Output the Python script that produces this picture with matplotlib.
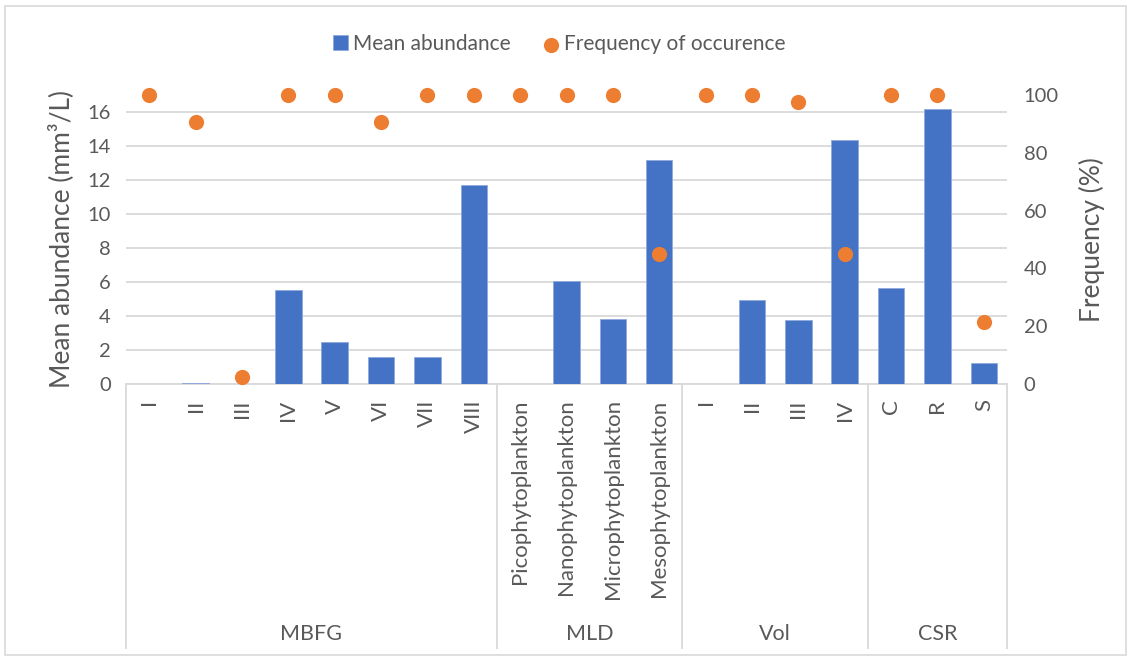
import matplotlib
matplotlib.use("Agg")
import matplotlib.pyplot as plt
from matplotlib.patches import Rectangle
from matplotlib.lines import Line2D

plt.rcParams['font.family'] = ['Lato', 'DejaVu Sans']

categories = ["I", "II", "III", "IV", "V", "VI", "VII", "VIII",
              "Picophytoplankton", "Nanophytoplankton", "Microphytoplankton", "Mesophytoplankton",
              "I", "II", "III", "IV",
              "C", "R", "S"]
groups = ["MBFG", "MLD", "Vol", "CSR"]
group_sizes = [8, 4, 4, 3]
abundance = [0, 0.07, 0.02, 5.55, 2.45, 1.6, 1.57, 11.7,
             0, 6.06, 3.82, 13.18,
             0, 4.94, 3.75, 14.33,
             5.63, 16.16, 1.25]
frequency = [100, 90.5, 2.3, 100, 100, 90.5, 100, 100,
             100, 100, 100, 45,
             100, 100, 97.5, 45,
             100, 100, 21.3]

BLUE = "#4472C4"
ORANGE = "#ED7D31"
TXT = "#595959"
GRID = "#D9D9D9"

W, H = 1132, 660
fig = plt.figure(figsize=(W / 100, H / 100), dpi=100)
left, right, top, bottom = 126, 1007, 95, 384
ax = fig.add_axes([left / W, 1 - bottom / H, (right - left) / W, (bottom - top) / H])
ax2 = ax.twinx()

n = len(categories)
x = list(range(n))
bars = ax.bar(x, abundance, width=0.57, color=BLUE, edgecolor="#8FAADC", linewidth=0.6,
              label="Mean abundance", zorder=3)
sc = ax2.scatter(x, frequency, s=120, color=ORANGE, zorder=4, clip_on=False,
                 label="Frequency of occurence", linewidths=0)

ax.set_xlim(-0.5, n - 0.5)
ax.set_ylim(0, 17)
ax.set_yticks(range(0, 17, 2))
ax2.set_ylim(0, 100)
ax2.set_yticks(range(0, 101, 20))
ax.yaxis.grid(True, color=GRID, linewidth=1.3, zorder=0)
ax.set_axisbelow(True)

for a in (ax, ax2):
    for s in a.spines.values():
        s.set_visible(False)
ax.spines['bottom'].set_visible(True)
ax.spines['bottom'].set_color(GRID)
ax.spines['bottom'].set_linewidth(1.3)

FS = 14.5
ax.tick_params(axis='y', length=0, pad=11, labelsize=FS, labelcolor=TXT)
ax2.tick_params(axis='y', length=0, pad=12, labelsize=FS, labelcolor=TXT)
ax.set_xticks(x)
ax.set_xticklabels(categories, rotation=90, va='top', ha='center')
ax.tick_params(axis='x', length=0, pad=11, labelsize=16, labelcolor=TXT)

ax.set_ylabel("Mean abundance (mm³/L)", fontsize=19, color=TXT)
ax.yaxis.set_label_coords(-52 / (right - left), 0.5)
ax2.set_ylabel("Frequency (%)", fontsize=19, color=TXT, rotation=90)
ax2.yaxis.set_label_coords((1079 - left) / (right - left), 0.5)

# multi-level category axis
ybot = -(648 - bottom) / (bottom - top)
ytxt = -(634 - bottom) / (bottom - top)
trans = ax.get_xaxis_transform()
pos = -0.5
bounds = [pos]
for g, sz in zip(groups, group_sizes):
    ax.text(pos + sz / 2, ytxt, g, transform=trans, ha='center', va='center',
            fontsize=15.5, color=TXT)
    pos += sz
    bounds.append(pos)
for b in bounds:
    ax.add_line(Line2D([b, b], [0, ybot], transform=trans, color=GRID, linewidth=1.3,
                       clip_on=False))

fig.legend(handles=[bars, sc], labels=["Mean abundance", "Frequency of occurence"],
           loc='center', bbox_to_anchor=(559 / W, 1 - 44 / H), ncol=2, frameon=False,
           fontsize=15, labelcolor=TXT, handlelength=0.7, handletextpad=0.25,
           columnspacing=1.6, markerscale=1.0)

fig.patches.append(Rectangle((5 / W, 1 - 655 / H), 1121 / W, 649 / H, transform=fig.transFigure,
                             fill=False, edgecolor=GRID, linewidth=1.2))

fig.savefig("out.png", dpi=100)
